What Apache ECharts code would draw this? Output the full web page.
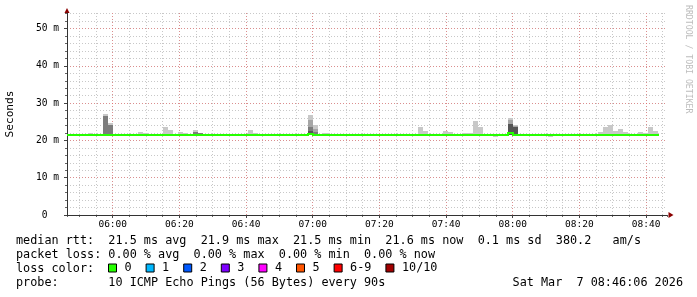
<!DOCTYPE html>
<html><head><meta charset="utf-8">
<script src="https://cdn.jsdelivr.net/npm/echarts@6/dist/echarts.min.js"></script>
<style>html,body{margin:0;padding:0;background:#fff}#c{width:697px;height:297px}</style>
</head><body><div id="c"></div>
<script>
// ---- tick labels ----
const xTickLabels = ['06:00','06:20','06:40','07:00','07:20','07:40','08:00','08:20','08:40'];
const yTickLabels = ['0  ','10 m','20 m','30 m','40 m','50 m'];

// ---- median rtt (ms), step changes, 90 s RRD step ----
const medianTimes  = ['05:45:00','06:58:30','07:00:00','07:58:30','08:00:00','08:43:30'];
const medianValues = [21.5, 21.7, 21.5, 21.9, 21.5, 21.5];

// ---- smoke (ms): bins with visible smoke, bottom and tops of each shade band ----
const smokeTimes = ['05:52:30','05:57:00','05:58:30','06:07:30','06:09:00','06:15:00','06:16:30','06:19:30','06:21:00','06:24:00',
                    '06:25:30','06:40:30','06:42:00','06:58:30','07:00:00','07:03:00','07:31:30','07:33:00','07:39:00','07:40:30',
                    '07:45:00','07:46:30','07:48:00','07:49:30','07:54:00','07:58:30','08:00:00','08:10:30','08:25:30','08:27:00',
                    '08:28:30','08:30:00','08:31:30','08:33:00','08:37:30','08:39:00','08:40:30','08:42:00'];
const smokeLow   = [21.4,21.4,21.4,21.4,21.4,21.4,21.4,21.4,21.4,21.4,
                    21.4,21.4,21.4,21.4,21.4,21.4,21.4,21.4,21.4,21.4,
                    21.4,21.4,21.4,21.4,21.0,21.4,21.4,21.0,21.4,21.4,
                    21.4,21.4,21.4,21.4,21.4,21.4,21.4,21.4];
const smokeOuter = [22.0,27.2,24.7,22.4,22.0,23.7,22.9,22.4,22.0,22.7,
                    22.0,22.7,22.1,26.7,24.2,22.0,23.7,22.6,22.6,22.3,
                    22.0,22.0,25.1,23.5,21.6,26.1,24.2,21.6,22.3,23.5,
                    24.2,22.6,23.1,22.3,22.3,22.0,23.5,22.6];
const smokeMid   = [null,null,null,null,null,null,null,null,null,null,
                    null,null,null,25.4,23.1,null,null,null,null,null,
                    null,null,null,null,null,25.4,24.0,null,null,null,
                    null,null,null,null,null,null,null,null];
const smokeInner = [null,26.5,24.2,null,null,null,null,null,null,22.2,
                    21.9,null,null,23.7,22.4,null,null,null,null,null,
                    null,null,null,null,null,null,null,null,null,null,
                    null,null,null,null,null,null,null,null];
const smokeCore  = [null,null,null,null,null,null,null,null,null,null,
                    null,null,null,22.6,null,null,null,null,null,null,
                    null,null,null,null,null,24.5,23.5,null,null,null,
                    null,null,null,null,null,null,null,null];

// ---- loss colour legend ----
const lossLabels = ['0','1','2','3','4','5','6-9','10/10'];
const lossColors = ['#26ff00','#00b8ff','#0059ff','#7e00ff','#ff00ff','#ff5500','#ff0000','#a10000'];

// ---- texts ----
const legendLines = [
  'median rtt:  21.5 ms avg  21.9 ms max  21.5 ms min  21.6 ms now  0.1 ms sd  380.2   am/s',
  'packet loss: 0.00 % avg  0.00 % max  0.00 % min  0.00 % now',
  'loss color:',
  'probe:       10 ICMP Echo Pings (56 Bytes) every 90s'
];
const stampText = 'Sat Mar  7 08:46:06 2026';
const watermark = 'RRDTOOL / TOBI OETIKER';

// ---- helpers ----
const toMin = s => { const p = s.split(':').map(Number); return p[0]*60 + p[1] + p[2]/60; };
const STEP = 1.5;
const X_MIN = toMin('05:46:17'), X_MAX = toMin('08:46:17');
const Y_MAX = 54.2;
const MONO = '"DejaVu Sans Mono", monospace';
const shadeColors = ['#c8c8c8','#a6a6a6','#7c7c7c','#555555'];
const bands = [smokeOuter, smokeMid, smokeInner, smokeCore];
const smokeData = [];
bands.forEach((arr, li) => arr.forEach((v, i) => {
  if (v != null) smokeData.push([toMin(smokeTimes[i]), smokeLow[i], v, li]);
}));
const medianSegs = [];
for (let i = 0; i < medianTimes.length - 1; i++) {
  medianSegs.push([toMin(medianTimes[i]), medianValues[i], toMin(medianTimes[i + 1]), medianValues[i + 1]]);
}

const xFmt = v => { const k = Math.round((v - 360) / 20); return (Math.abs(v - 360 - 20*k) < 1e-3 && k >= 0 && k < xTickLabels.length) ? xTickLabels[k] : ''; };
const yFmt = v => { const k = Math.round(v / 10); return (Math.abs(v - 10*k) < 1e-3 && k >= 0 && k < yTickLabels.length) ? yTickLabels[k] : ''; };
const R = Math.round;

const chart = echarts.init(document.getElementById('c'), null, {renderer: 'canvas'});
const dotted = [1, 2];
const minorGrid = {color: '#c8c8c8', type: dotted, width: 1};
const majorGrid = {color: 'rgba(240,70,70,0.45)', type: dotted, width: 1};
chart.setOption({
  animation: false,
  backgroundColor: '#ffffff',
  grid: {left: 67, top: 13, width: 600, height: 202, containLabel: false, outerBoundsMode: 'none'},
  xAxis: [
    { type: 'value', position: 'bottom', min: X_MIN, max: X_MAX, minInterval: 5, maxInterval: 5, splitNumber: 36, z: 0,
      axisLabel: {show: false},
      axisTick: {show: true, length: 2, lineStyle: {color: '#666'}},
      axisLine: {show: true, onZero: false, symbol: ['none', 'triangle'], symbolSize: [6, 5], symbolOffset: [0, 4],
                 lineStyle: {color: '#8b0000', width: 1}},
      splitLine: {show: true, showMinLine: false, showMaxLine: false, lineStyle: minorGrid} },
    { type: 'value', position: 'bottom', min: X_MIN, max: X_MAX, minInterval: 20, maxInterval: 20, splitNumber: 9, z: 1,
      axisLabel: {formatter: xFmt, fontFamily: MONO, fontSize: 9.5, color: '#000', margin: 5, hideOverlap: false, showMinLabel: false, showMaxLabel: false},
      axisTick: {show: true, length: 3, lineStyle: {color: '#444'}},
      axisLine: {show: true, onZero: false, lineStyle: {color: '#333', width: 1}},
      splitLine: {show: true, showMinLine: false, showMaxLine: false, lineStyle: majorGrid} }
  ],
  yAxis: [
    { type: 'value', position: 'left', min: 0, max: Y_MAX, interval: 2, z: 0,
      axisLabel: {show: false},
      axisTick: {show: true, length: 2, lineStyle: {color: '#666'}},
      axisLine: {show: true, onZero: false, symbol: ['none', 'triangle'], symbolSize: [5, 5], symbolOffset: [0, 2.5],
                 lineStyle: {color: '#8b0000', width: 1}},
      splitLine: {show: true, showMinLine: false, showMaxLine: false, lineStyle: minorGrid} },
    { type: 'value', position: 'left', min: 0, max: Y_MAX, interval: 10, z: 1,
      name: 'Seconds', nameLocation: 'middle', nameGap: 51, nameRotate: 90,
      nameTextStyle: {fontFamily: MONO, fontSize: 11.2, color: '#000'},
      axisLabel: {formatter: yFmt, fontFamily: MONO, fontSize: 9.6, color: '#000', margin: 8, showMaxLabel: false},
      axisTick: {show: true, length: 3, lineStyle: {color: '#444'}},
      axisLine: {show: true, onZero: false, lineStyle: {color: '#333', width: 1}},
      splitLine: {show: true, showMinLine: false, showMaxLine: false, lineStyle: majorGrid} }
  ],
  legend: {
    left: 108, top: 262, padding: 0, itemWidth: 8, itemHeight: 8, itemGap: 14, icon: 'rect', selectedMode: false,
    itemStyle: {borderColor: '#000', borderWidth: 1},
    textStyle: {fontFamily: MONO, fontSize: 11.8, color: '#000', padding: [0, 0, 0, 3]},
    data: lossLabels
  },
  series: [
    { type: 'custom', xAxisIndex: 1, yAxisIndex: 1, clip: true, z: 2, silent: true,
      encode: {x: 0, y: [1, 2]},
      data: smokeData,
      renderItem: (params, api) => {
        const t = api.value(0), lo = api.value(1), hi = api.value(2), li = api.value(3);
        const a = api.coord([t, hi]), b = api.coord([t + STEP, lo]);
        const x0 = R(a[0]), y0 = R(a[1]), x1 = R(b[0]), y1 = R(b[1]);
        return {type: 'rect', shape: {x: x0, y: y0, width: x1 - x0, height: y1 - y0},
                style: {fill: shadeColors[li]}};
      } },
    { type: 'custom', xAxisIndex: 1, yAxisIndex: 1, clip: true, z: 3, silent: true,
      encode: {x: [0, 2], y: [1, 3]},
      data: medianSegs,
      renderItem: (params, api) => {
        const p0 = api.coord([api.value(0), api.value(1)]);
        const p1 = api.coord([api.value(2), api.value(1)]);
        const p2 = api.coord([api.value(2), api.value(3)]);
        const pts = [[R(p0[0]), R(p0[1])], [R(p1[0]), R(p1[1])], [R(p2[0]), R(p2[1])]];
        return {type: 'polyline', shape: {points: pts},
                style: {stroke: lossColors[0], lineWidth: 2, fill: null, lineCap: 'square', lineJoin: 'miter'}};
      } },
    ...lossLabels.map((n, i) => ({type: 'bar', name: n, data: [], xAxisIndex: 1, yAxisIndex: 1, itemStyle: {color: lossColors[i]}}))
  ],
  graphic: [
    ...legendLines.map((s, i) => ({type: 'text', x: 16, y: 241 + 14*i, silent: true,
      style: {text: s, font: '11.8px ' + MONO, fill: '#000', verticalAlign: 'middle', align: 'left'}})),
    {type: 'text', x: 683, y: 283, silent: true,
      style: {text: stampText, font: '11.8px ' + MONO, fill: '#000', verticalAlign: 'middle', align: 'right'}},
    {type: 'text', x: 688, y: 5, rotation: -Math.PI/2, silent: true,
      style: {text: watermark, font: '8.2px ' + MONO, fill: '#bdbdbd', verticalAlign: 'middle', align: 'left'}}
  ]
});
</script></body></html>
